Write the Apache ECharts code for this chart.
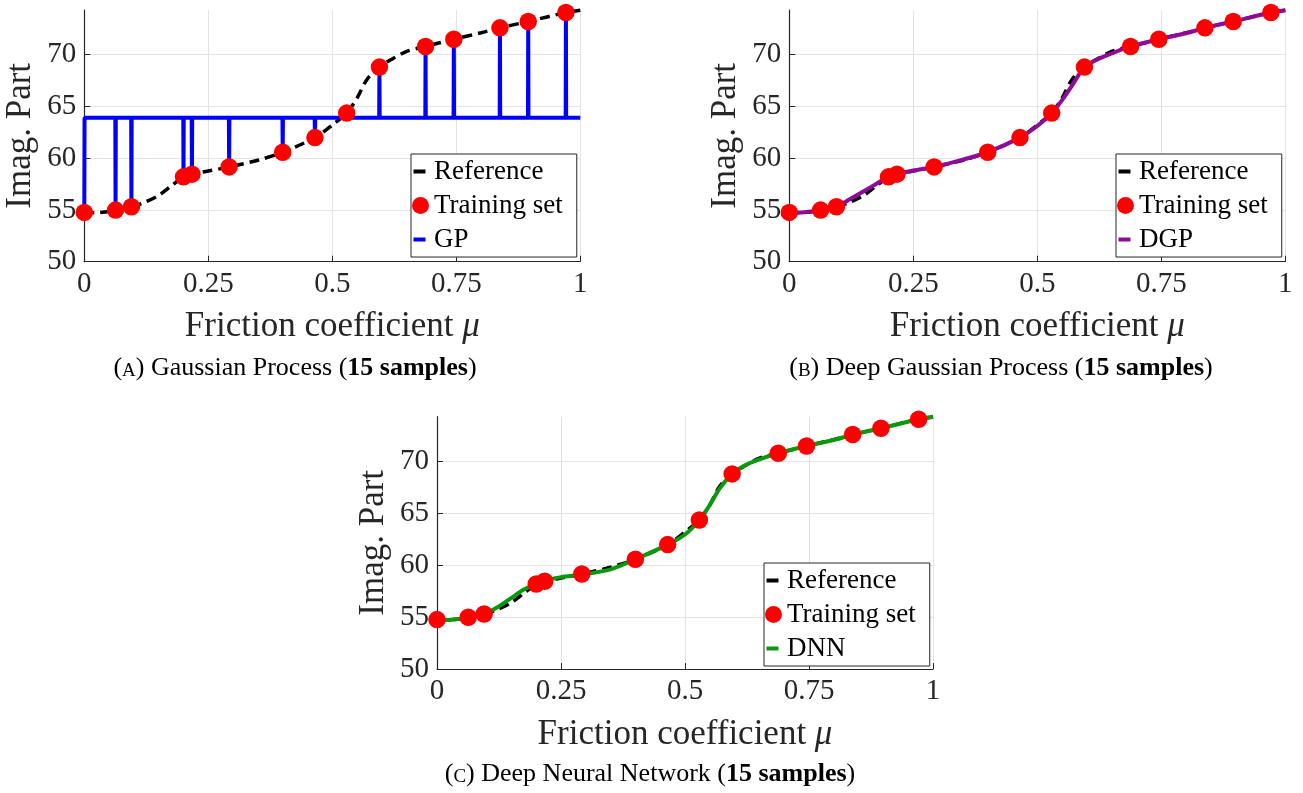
<!DOCTYPE html>
<html>
<head>
<meta charset="utf-8">
<script src="https://cdn.jsdelivr.net/npm/echarts@6/dist/echarts.min.js"></script>
<style>
  html, body { margin: 0; padding: 0; background: #ffffff; }
  #chart { width: 1303px; height: 793px; }
</style>
</head>
<body>
<div id="chart"></div>
<script>
// Friction coefficient samples where the curves are evaluated
const muGrid = [0, 0.03, 0.063, 0.095, 0.12, 0.15, 0.175, 0.2, 0.217, 0.25, 0.292, 0.35, 0.4, 0.465,
  0.5, 0.529, 0.55, 0.57, 0.595, 0.62, 0.65, 0.688, 0.745, 0.8, 0.838, 0.895, 0.971, 1];

// Imaginary part of the reference solution
const referenceCurve = [54.72, 54.75, 54.95, 55.3, 55.7, 56.4, 57.3, 58.19, 58.45, 58.75, 59.15, 59.8, 60.57, 61.98,
  63.2, 64.35, 65.8, 67.6, 68.79, 69.55, 70.3, 70.78, 71.48, 72.1, 72.58, 73.19, 74.06, 74.28];

// Deep Gaussian Process prediction
const dgpCurve = [54.72, 54.78, 54.97, 55.3, 55.98, 56.8, 57.5, 58.19, 58.45, 58.8, 59.15, 59.85, 60.57, 61.98,
  63.1, 64.35, 65.6, 67.0, 68.79, 69.5, 70.1, 70.78, 71.48, 72.05, 72.58, 73.19, 74.06, 74.28];

// Deep Neural Network prediction
const dnnCurve = [54.72, 54.75, 54.95, 55.3, 55.9, 56.85, 57.65, 58.19, 58.5, 58.85, 59.1, 59.6, 60.57, 61.98,
  62.95, 64.35, 65.8, 67.4, 68.79, 69.6, 70.2, 70.78, 71.48, 72.05, 72.58, 73.19, 74.06, 74.3];

// Training set (15 samples)
const trainMu = [0, 0.063, 0.095, 0.2, 0.217, 0.292, 0.4, 0.465, 0.529, 0.595, 0.688, 0.745, 0.838, 0.895, 0.971];
const trainImag = [54.76, 54.98, 55.3, 58.19, 58.45, 59.15, 60.57, 61.98, 64.35, 68.79, 70.78, 71.48, 72.58, 73.19, 74.06];

// Gaussian Process: constant mean away from the training samples
const gpMean = 63.9;

// Axis ticks
const xTicks = [0, 0.25, 0.5, 0.75, 1];
const yTicks = [50, 55, 60, 65, 70];
const yMax = 74.3;

const SERIF = "'Liberation Serif', 'Times New Roman', serif";
const AXIS_COLOR = '#262626';

const pairs = (xs, ys) => xs.map((x, i) => [x, ys[i]]);

// GP prediction collapses to the mean except exactly at the training samples
function gpPath() {
  const d = 0.0005;
  const pts = [];
  trainMu.forEach((x, i) => {
    if (x > 0) pts.push([x - d, gpMean]);
    pts.push([x, trainImag[i]]);
    pts.push([x + d, gpMean]);
  });
  pts.push([1, gpMean]);
  return pts;
}

const panels = [
  { left: 84.3, top: 10, height: 251.7, legendLeft: 411, legendTop: 154,
    model: 'GP', color: '#0000ff', data: gpPath(), smooth: false,
    capX: 295, capY: 368, capLetter: 'A', capTitle: 'Gaussian Process' },
  { left: 789.3, top: 10, height: 251.7, legendLeft: 1116, legendTop: 154,
    model: 'DGP', color: '#8e0a98', data: pairs(muGrid, dgpCurve), smooth: true,
    capX: 1001, capY: 368, capLetter: 'B', capTitle: 'Deep Gaussian Process' },
  { left: 437, top: 416.7, height: 252.3, legendLeft: 764, legendTop: 563,
    model: 'DNN', color: '#0c980c', data: pairs(muGrid, dnnCurve), smooth: true,
    capX: 650, capY: 774, capLetter: 'C', capTitle: 'Deep Neural Network' }
];

const lineIcon = 'path://M0,0L0,0M17,0L17,0M0,17L0,17M17,17L17,17M1.5,6.5L13.5,6.5L13.5,10.5L1.5,10.5Z';

const option = {
  animation: false,
  backgroundColor: '#ffffff',
  grid: panels.map(p => ({ left: p.left, top: p.top, width: 496, height: p.height, containLabel: false })),
  xAxis: panels.map((p, i) => ({
    type: 'value', gridIndex: i, min: 0, max: 1, interval: 0.25,
    name: 'Friction coefficient {it|μ}',
    nameLocation: 'middle', nameGap: 48,
    nameTextStyle: {
      fontFamily: SERIF, fontSize: 35, color: AXIS_COLOR,
      rich: { it: { fontFamily: SERIF, fontSize: 35, fontStyle: 'italic', color: AXIS_COLOR } }
    },
    axisLine: { show: true, lineStyle: { color: AXIS_COLOR, width: 1.2 } },
    axisTick: { show: true, inside: true, length: 6, lineStyle: { color: AXIS_COLOR, width: 1 } },
    axisLabel: { fontFamily: SERIF, fontSize: 29, color: AXIS_COLOR, margin: 8,
      formatter: v => String(v) },
    splitLine: { show: true, lineStyle: { color: '#e3e3e3', width: 1 } }
  })),
  yAxis: panels.map((p, i) => ({
    type: 'value', gridIndex: i, min: 50, max: yMax, interval: 5,
    name: 'Imag. Part',
    nameLocation: 'middle', nameGap: 46, nameRotate: 90,
    nameTextStyle: { fontFamily: SERIF, fontSize: 35, color: AXIS_COLOR },
    axisLine: { show: true, lineStyle: { color: AXIS_COLOR, width: 1.2 } },
    axisTick: { show: true, inside: true, length: 6, customValues: yTicks,
      lineStyle: { color: AXIS_COLOR, width: 1 } },
    axisLabel: { fontFamily: SERIF, fontSize: 29, color: AXIS_COLOR, margin: 8,
      customValues: yTicks },
    splitLine: { show: true, lineStyle: { color: '#e3e3e3', width: 1 } }
  })),
  legend: panels.map(p => ({
    orient: 'vertical', left: p.legendLeft, top: p.legendTop,
    padding: [4, 14, 4, 1], itemGap: 7, itemWidth: 17, itemHeight: 17,
    backgroundColor: '#ffffff', borderColor: AXIS_COLOR, borderWidth: 1, borderRadius: 0,
    selectedMode: false,
    textStyle: { fontFamily: SERIF, fontSize: 27, color: '#000000' },
    data: [
      { name: 'Reference', icon: lineIcon, itemStyle: { color: '#000000', borderWidth: 0 } },
      { name: 'Training set', icon: 'circle', itemStyle: { color: '#ff0000', borderWidth: 0 } },
      { name: p.model, icon: lineIcon, itemStyle: { color: p.color, borderWidth: 0 } }
    ]
  })),
  series: panels.flatMap((p, i) => [
    {
      name: 'Reference', type: 'line', xAxisIndex: i, yAxisIndex: i,
      data: pairs(muGrid, referenceCurve), smooth: 0.3,
      showSymbol: false, symbol: 'none', clip: false, color: '#000000',
      lineStyle: { color: '#000000', width: 3.5, type: [10, 6] }, z: 2
    },
    {
      name: p.model, type: 'line', xAxisIndex: i, yAxisIndex: i,
      data: p.data, smooth: p.smooth ? 0.3 : false,
      showSymbol: false, symbol: 'none', clip: false, color: p.color,
      lineStyle: { color: p.color, width: 4, join: 'bevel' }, z: 3
    },
    {
      name: 'Training set', type: 'scatter', xAxisIndex: i, yAxisIndex: i,
      data: pairs(trainMu, trainImag), symbol: 'circle', symbolSize: 17.5, clip: false,
      color: '#ff0000', itemStyle: { color: '#ff0000', borderWidth: 0, opacity: 1 }, z: 4
    }
  ]),
  graphic: panels.map(p => ({
    type: 'text', x: p.capX, y: p.capY, silent: true,
    style: {
      text: '(' + '{sc|' + p.capLetter + '}' + ') ' + p.capTitle + ' (' + '{b|15 samples}' + ')',
      fontFamily: SERIF, fontSize: 26, lineHeight: 26, fill: '#000000',
      align: 'center', verticalAlign: 'middle',
      rich: {
        sc: { fontFamily: SERIF, fontSize: 19, lineHeight: 19, verticalAlign: 'bottom', fill: '#000000' },
        b: { fontFamily: SERIF, fontSize: 26, lineHeight: 26, fontWeight: 'bold', fill: '#000000' }
      }
    }
  }))
};

const chart = echarts.init(document.getElementById('chart'), null, { renderer: 'canvas' });
chart.setOption(option);
</script>
</body>
</html>
